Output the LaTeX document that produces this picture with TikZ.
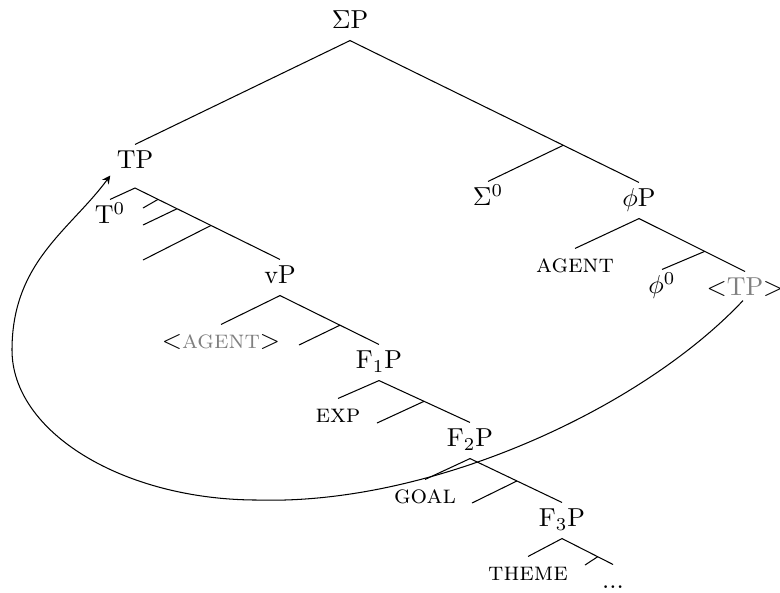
\documentclass[tikz,border=0pt]{standalone}
\usepackage{amsfonts}
\usepackage{amssymb}
\usetikzlibrary{calc}

\tikzset{lbl/.style={inner sep=0pt, text height=9.2pt, text depth=4.3pt}}

\begin{document}
\begin{tikzpicture}[x=0.385pt,y=0.385pt,yscale=-1,every node/.style={lbl}]

\useasboundingbox (0,0) rectangle (780,592);

% Text Node
\node (sigmaP) at (350,22.5) {$\Sigma$P};
% Text Node
\node (TP) at (135,162.5) {TP};
% Text Node
\node (sigma0) at (488,199.5) {$\Sigma^0$};
% Text Node
\node (phiP) at (639,200.5) {$\phi$P};
% Text Node
\node (agent) at (575,266.5) {\textsc{agent}};
% Text Node
\node (phi0) at (662,287.5) {$\phi^0$};
% Text Node
\node (tptrace) at (745,289.5) {$<$\textcolor{gray}{TP}$>$};
% Text Node
\node (T0) at (110,217.5) {T$^0$};
% Text Node
\node (vP) at (280,277.5) {vP};
% Text Node
\node (agenttrace) at (221,342.5) {$<$\textcolor{gray}{\textsc{agent}}$>$};
% Text Node
\node (FoneP) at (379,362.5) {F$_1$P};
% Text Node
\node (exp) at (338,416.5) {\textsc{exp}};
% Text Node
\node (FtwoP) at (470,440.5) {F$_2$P};
% Text Node
\node (goal) at (425,497.5) {\textsc{goal}};
% Text Node
\node (FthreeP) at (562,520.5) {F$_3$P};
% Text Node
\node (theme) at (528,574.5) {\textsc{theme}};
% Text Node
\node (dots) at (613,582.5) {...};

% empty points of the tree
\coordinate (tpfoot) at (135,188);
\coordinate (jsig) at ($(sigmaP.south)!0.738!(phiP.north)$);
\coordinate (jphi) at ($(phiP.south)!0.62!(tptrace.north)$);
\coordinate (jt1) at ($(tpfoot)!0.159!(vP.north)$);
\coordinate (jt2) at ($(tpfoot)!0.29!(vP.north)$);
\coordinate (jt3) at ($(tpfoot)!0.524!(vP.north)$);
\coordinate (et1) at (143,208);
\coordinate (et2) at (143,225);
\coordinate (et3) at (143,260);
\coordinate (jv) at ($(vP.south)!0.606!(FoneP.north)$);
\coordinate (ev) at (299,345);
\coordinate (jf1) at ($(FoneP.south)!0.495!(FtwoP.north)$);
\coordinate (ef1) at (377,423);
\coordinate (jf2) at ($(FtwoP.south)!0.51!(FthreeP.north)$);
\coordinate (ef2) at (472,503);
\coordinate (jf3) at ($(FthreeP.south)!0.7!(dots.north)$);
\coordinate (ef3) at (585,565);

%Straight Lines
\draw (TP.north) -- (sigmaP.south) -- (phiP.north);
\draw (jsig) -- (sigma0.north);
%Straight Lines
\draw (agent.north) -- (phiP.south) -- (tptrace.north);
\draw (jphi) -- (phi0.north);
%Straight Lines
\draw (T0.north) -- (tpfoot) -- (vP.north);
\draw (jt1) -- (et1);
\draw (jt2) -- (et2);
\draw (jt3) -- (et3);
%Straight Lines
\draw (agenttrace.north) -- (vP.south) -- (FoneP.north);
\draw (jv) -- (ev);
%Straight Lines
\draw (exp.north) -- (FoneP.south) -- (FtwoP.north);
\draw (jf1) -- (ef1);
%Straight Lines
\draw (goal.north) -- (FtwoP.south) -- (FthreeP.north);
\draw (jf2) -- (ef2);
%Straight Lines
\draw (theme.north) -- (FthreeP.south) -- (dots.north);
\draw (jf3) -- (ef3);

%Curve Lines
\draw [-stealth] ($(tptrace.south)+(-2,-7)$) .. controls (640,410) and (430,505) .. (258,500) .. controls (123,500) and (12,432) .. (12,350) .. controls (12,262) and (70,230) .. ($(TP.south west)+(-6,-5)$);

\end{tikzpicture}
\end{document}
